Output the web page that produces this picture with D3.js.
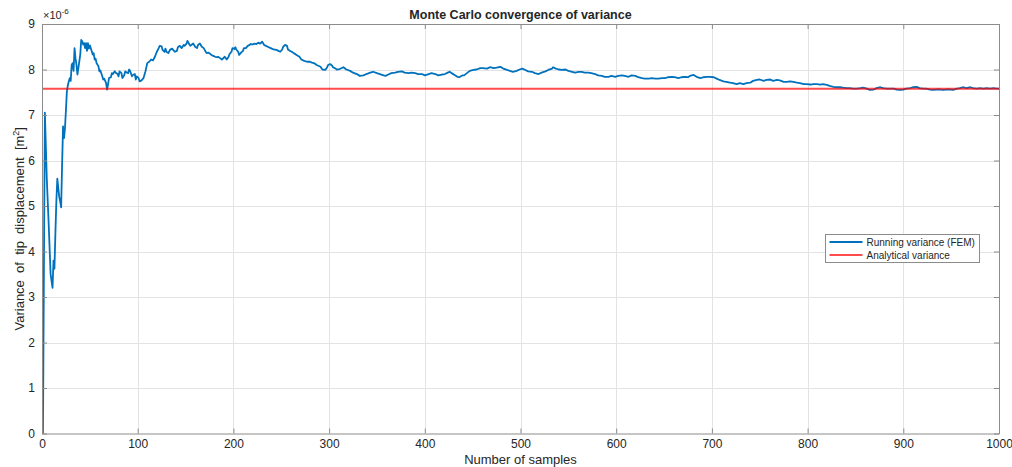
<!DOCTYPE html>
<html>
<head>
<meta charset="utf-8">
<script src="https://cdn.jsdelivr.net/npm/d3@7"></script>
<style>
  html, body { margin: 0; padding: 0; background: #fff; }
  svg { display: block; font-family: "Liberation Sans", Arial, sans-serif; }
</style>
</head>
<body>
<svg id="chart" width="1012" height="467"></svg>
<script>
// Running variance of the tip displacement after n Monte Carlo samples (units of 1e-6 m^2)
const sampleCounts = [
  1,2,3,5,7,9,10,11,12,13,14,15,16,17,18,19,20,21,22,23,24,25,26,27,28,29,30,
  31,32,33,34,35,36,37,38,39,40,41,42,43,44,45,46,47,48,49,50,52,53,54,55,56,57,59,60,
  61,63,64,65,67,68,69,70,72,73,74,76,77,79,80,81,83,84,86,87,88,90,91,92,94,95,97,98,99,
  101,102,104,106,108,110,112,114,116,118,120,122,123,125,126,128,129,130,132,134,136,137,139,
  141,142,144,146,148,149,151,152,154,155,156,158,160,162,163,165,167,169,170,172,174,176,177,179,
  181,183,184,186,188,189,191,193,195,196,198,199,201,202,203,205,206,208,210,211,213,215,217,218,
  220,222,224,226,228,230,231,232,234,237,239,242,245,247,249,251,252,254,256,257,259,261,263,266,
  269,271,274,277,278,280,282,284,285,287,291,293,296,298,299,301,303,304,306,308,311,315,318,322,
  325,329,332,336,339,343,346,350,353,357,359,362,365,369,372,376,379,383,386,390,393,397,400,404,
  407,411,414,418,421,424,426,428,432,434,436,439,441,444,447,451,454,458,461,465,468,472,475,479,
  482,486,489,492,496,499,502,505,508,512,515,519,522,526,529,533,534,537,540,543,547,550,554,557,
  561,564,567,571,574,578,581,585,588,592,595,599,602,606,609,613,616,620,623,627,630,634,637,641,
  644,648,651,654,658,661,665,668,672,675,677,681,684,688,691,695,698,702,705,708,712,715,719,722,
  726,729,733,736,740,743,747,750,754,757,761,764,768,771,775,778,782,785,789,792,796,799,803,806,
  810,813,816,820,823,827,830,834,837,841,844,848,851,855,858,862,865,869,872,876,879,883,886,890,
  893,897,900,903,907,910,914,917,921,924,928,931,935,938,942,945,949,952,956,959,963,966,970,973,
  977,980,984,987,991,994,998,1000
];
const runningVariance = [
  0,3.6,7.05,5.6,4.6,3.5,3.35,3.2,3.8,3.62,4.4,5.1,5.6,5.4,5.2,5.1,4.97,5.9,6.75,6.49,6.71,7.1,7.52,7.65,7.74,7.81,7.75,
  8.1,8.14,7.97,8.47,8.25,8.1,7.89,8.03,8.18,8.33,8.65,8.62,8.55,8.58,8.47,8.58,8.41,8.58,8.46,8.53,8.4,8.33,8.36,8.22,8.24,8.14,8.07,7.96,
  7.98,7.85,7.78,7.8,7.7,7.56,7.67,7.81,7.83,7.92,7.9,7.96,7.93,7.9,7.85,7.96,7.92,7.81,7.88,7.96,7.94,7.92,8.0,7.97,7.85,7.88,7.9,7.78,7.85,
  7.81,7.74,7.76,7.81,7.95,8.14,8.17,8.22,8.2,8.28,8.39,8.47,8.52,8.51,8.43,8.39,8.46,8.39,8.36,8.44,8.46,8.43,8.39,
  8.41,8.49,8.52,8.47,8.54,8.52,8.57,8.63,8.55,8.52,8.54,8.57,8.5,8.47,8.54,8.57,8.5,8.47,8.43,8.36,8.37,8.34,8.32,8.3,
  8.28,8.27,8.28,8.25,8.22,8.24,8.28,8.22,8.28,8.34,8.39,8.47,8.45,8.49,8.44,8.39,8.32,8.37,8.41,8.47,8.47,8.52,8.54,8.56,
  8.55,8.57,8.56,8.59,8.57,8.61,8.58,8.54,8.52,8.49,8.47,8.44,8.43,8.41,8.39,8.44,8.5,8.54,8.52,8.44,8.41,8.39,8.36,8.32,
  8.28,8.22,8.19,8.17,8.17,8.17,8.15,8.14,8.13,8.1,8.06,8.0,7.99,8.05,8.1,8.12,8.09,8.05,8.03,8.0,8.01,8.05,8.0,7.97,
  7.93,7.9,7.86,7.87,7.9,7.93,7.95,7.92,7.9,7.87,7.86,7.89,7.92,7.93,7.95,7.96,7.93,7.92,7.93,7.92,7.9,7.9,7.87,7.9,
  7.92,7.9,7.87,7.89,7.9,7.93,7.95,7.92,7.87,7.84,7.83,7.87,7.87,7.92,7.97,7.99,8.0,8.03,8.03,8.02,8.05,8.03,8.04,8.06,
  8.02,7.99,7.97,7.95,7.97,8.0,8.02,7.99,7.96,7.95,7.92,7.9,7.93,7.96,7.99,8.02,8.05,8.02,8.0,7.99,8.0,7.97,7.95,7.93,
  7.95,7.95,7.93,7.93,7.92,7.9,7.87,7.86,7.84,7.84,7.86,7.84,7.86,7.87,7.86,7.84,7.87,7.86,7.83,7.81,7.8,7.8,7.81,7.8,
  7.8,7.81,7.81,7.83,7.84,7.83,7.81,7.83,7.84,7.83,7.86,7.88,7.84,7.81,7.83,7.84,7.84,7.83,7.8,7.77,7.74,7.73,7.71,7.7,
  7.68,7.7,7.68,7.7,7.71,7.75,7.77,7.78,7.75,7.77,7.78,7.75,7.77,7.76,7.73,7.73,7.74,7.73,7.71,7.7,7.68,7.68,7.67,7.68,
  7.68,7.67,7.68,7.66,7.64,7.62,7.61,7.61,7.6,7.59,7.59,7.58,7.58,7.59,7.6,7.58,7.55,7.56,7.59,7.61,7.59,7.58,7.58,7.58,
  7.56,7.55,7.56,7.58,7.59,7.61,7.62,7.59,7.58,7.58,7.56,7.55,7.56,7.56,7.55,7.56,7.56,7.55,7.58,7.59,7.61,7.59,7.61,7.59,
  7.58,7.59,7.58,7.59,7.58,7.59,7.58,7.58
];
const analyticalVariance = 7.575;

const xTicks = [0, 100, 200, 300, 400, 500, 600, 700, 800, 900, 1000];
const yTicks = [0, 1, 2, 3, 4, 5, 6, 7, 8, 9];
const seriesNames = ["Running variance (FEM)", "Analytical variance"];

const svg = d3.select("#chart");
const margin = { left: 42, top: 24, right: 13, bottom: 33.5 };
const W = 1012, H = 467;
const iw = W - margin.left - margin.right;
const ih = H - margin.top - margin.bottom;

const x = d3.scaleLinear().domain([0, 1000]).range([0, iw]);
const y = d3.scaleLinear().domain([0, 9]).range([ih, 0]);

const axisColor = "#8c8c8c";
const textColor = "#262626";

const g = svg.append("g").attr("transform", `translate(${margin.left},${margin.top})`);

// grid
g.append("g").selectAll("line.gx").data(xTicks.slice(1, -1)).join("line")
  .attr("x1", d => Math.round(x(d)) + 0.5).attr("x2", d => Math.round(x(d)) + 0.5)
  .attr("y1", 0).attr("y2", ih)
  .attr("stroke", "#e3e3e3").attr("stroke-width", 1);
g.append("g").selectAll("line.gy").data(yTicks.slice(1, -1)).join("line")
  .attr("y1", d => Math.round(y(d)) + 0.5).attr("y2", d => Math.round(y(d)) + 0.5)
  .attr("x1", 0).attr("x2", iw)
  .attr("stroke", "#e3e3e3").attr("stroke-width", 1);

// data lines
const pts = sampleCounts.map((n, i) => [n, runningVariance[i]]);
const line = d3.line().x(d => x(d[0])).y(d => y(d[1]));
g.append("path").datum(pts)
  .attr("d", line)
  .attr("fill", "none")
  .attr("stroke", "#0072BD")
  .attr("stroke-width", 1.8)
  .attr("stroke-linejoin", "round");

g.append("line")
  .attr("x1", x(0)).attr("x2", x(1000))
  .attr("y1", y(analyticalVariance)).attr("y2", y(analyticalVariance))
  .attr("stroke", "#ff0000").attr("stroke-opacity", 0.7).attr("stroke-width", 2);

// axes (ticks inside, box on)
const styleAxis = sel => {
  sel.select(".domain").attr("stroke", axisColor);
  sel.selectAll(".tick line").attr("stroke", axisColor);
  sel.selectAll(".tick text").attr("fill", textColor).attr("font-size", 12)
    .attr("font-family", "Liberation Sans, Arial, sans-serif");
};
g.append("g").attr("transform", `translate(0,${ih})`)
  .call(d3.axisBottom(x).tickValues(xTicks).tickSizeInner(-5).tickSizeOuter(0).tickPadding(6).tickFormat(d3.format("d")))
  .call(styleAxis);
g.append("g")
  .call(d3.axisLeft(y).tickValues(yTicks).tickSizeInner(-5).tickSizeOuter(0).tickPadding(7).tickFormat(d3.format("d")))
  .call(styleAxis);
g.append("g")
  .call(d3.axisTop(x).tickValues(xTicks).tickSizeInner(-5).tickSizeOuter(0).tickFormat(""))
  .call(styleAxis);
g.append("g").attr("transform", `translate(${iw},0)`)
  .call(d3.axisRight(y).tickValues(yTicks).tickSizeInner(-5).tickSizeOuter(0).tickFormat(""))
  .call(styleAxis);
g.selectAll(".domain").attr("fill", "none");

// exponent label
const ex = svg.append("text").attr("x", margin.left + 1).attr("y", 19)
  .attr("font-size", 11).attr("fill", textColor);
ex.append("tspan").text("×10");
ex.append("tspan").attr("dy", -5).attr("font-size", 8).text("-6");

// title
svg.append("text").attr("x", margin.left + iw / 2).attr("y", 19)
  .attr("text-anchor", "middle").attr("font-size", 12.5).attr("font-weight", "bold")
  .attr("fill", "#262626").text("Monte Carlo convergence of variance");

// axis labels
svg.append("text").attr("x", margin.left + iw / 2).attr("y", 464)
  .attr("text-anchor", "middle").attr("font-size", 13).attr("fill", textColor)
  .text("Number of samples");

const yl = svg.append("text")
  .attr("transform", `translate(24,${margin.top + ih / 2}) rotate(-90)`)
  .attr("text-anchor", "middle").attr("font-size", 13).attr("fill", textColor)
  .attr("xml:space", "preserve").style("white-space", "pre");
yl.append("tspan").text("Variance  of  tip  displacement  [m");
yl.append("tspan").attr("dy", -5).attr("font-size", 9).text("2");
yl.append("tspan").attr("dy", 5).text("]");

// legend
const lg = svg.append("g").attr("transform", "translate(825.5,234.5)");
lg.append("rect").attr("width", 154).attr("height", 28)
  .attr("fill", "#fff").attr("stroke", "#8c8c8c").attr("stroke-width", 1);
const legendColors = ["#0072BD", "rgba(255,0,0,0.7)"];
seriesNames.forEach((name, i) => {
  const yy = 7.5 + i * 13;
  lg.append("line").attr("x1", 4).attr("x2", 37).attr("y1", yy).attr("y2", yy)
    .attr("stroke", legendColors[i]).attr("stroke-width", 2);
  lg.append("text").attr("x", 41).attr("y", yy + 3.5).attr("font-size", 10)
    .attr("fill", textColor).text(name);
});
</script>
</body>
</html>
